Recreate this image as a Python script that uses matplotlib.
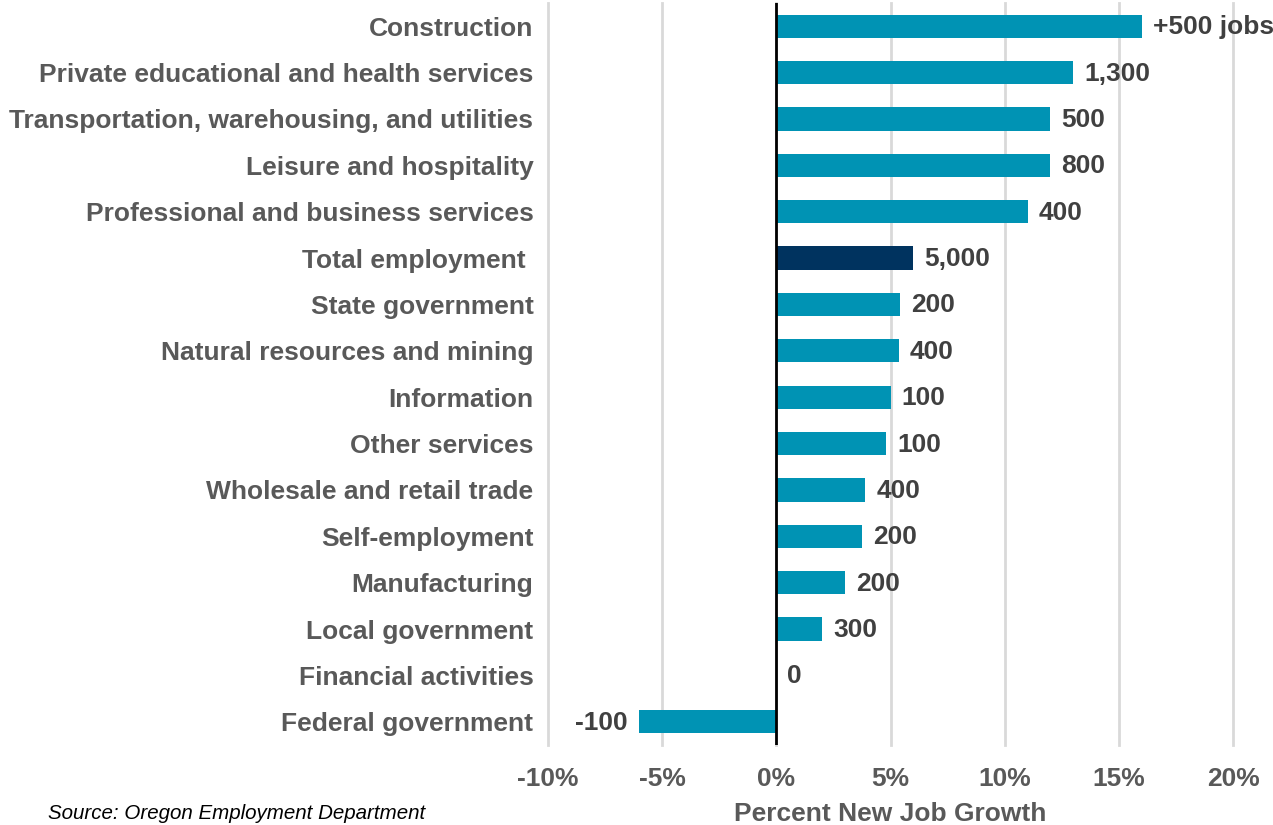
import matplotlib.pyplot as plt
from matplotlib.ticker import FuncFormatter

plt.rcParams['font.family'] = ['Liberation Sans', 'DejaVu Sans']

# Industries, top to bottom as they appear in the chart
industries = [
    'Construction',
    'Private educational and health services',
    'Transportation, warehousing, and utilities',
    'Leisure and hospitality',
    'Professional and business services',
    'Total employment ',
    'State government',
    'Natural resources and mining',
    'Information',
    'Other services',
    'Wholesale and retail trade',
    'Self-employment',
    'Manufacturing',
    'Local government',
    'Financial activities',
    'Federal government',
]
pct_growth = [16.0, 13.0, 12.0, 12.0, 11.0, 6.0, 5.4, 5.35, 5.0, 4.8,
              3.9, 3.75, 3.0, 2.0, 0.0, -6.0]
job_labels = ['+500 jobs', '1,300', '500', '800', '400', '5,000', '200', '400',
              '100', '100', '400', '200', '200', '300', '0', '-100']

bar_col = '#0093B4'
total_col = '#00335F'
label_gray = '#595959'
value_gray = '#404040'
fs = 19

fig = plt.figure(figsize=(12.73, 8.25), dpi=100)
ax = fig.add_axes([0.4305, 0.097, 0.5381, 0.8994])

ypos = list(range(len(industries)))[::-1]
colors = [total_col if s.startswith('Total') else bar_col for s in industries]
ax.barh(ypos, pct_growth, height=0.5, color=colors, zorder=3)

# value labels
for y, v, lab in zip(ypos, pct_growth, job_labels):
    if v < 0:
        ax.annotate(lab, (v, y), xytext=(-12, -1), textcoords='offset pixels',
                    ha='right', va='center', fontsize=fs, weight='bold', color=value_gray)
    else:
        ax.annotate(lab, (v, y), xytext=(11, -1), textcoords='offset pixels',
                    ha='left', va='center', fontsize=fs, weight='bold', color=value_gray)

ax.set_xlim(-10, 20)
ax.set_ylim(-0.5, len(industries) - 0.5)
ax.set_xticks([-10, -5, 0, 5, 10, 15, 20])
ax.xaxis.set_major_formatter(FuncFormatter(lambda x, p: f'{x:.0f}%'))
ax.set_yticks(ypos)
ax.set_yticklabels(industries)

ax.tick_params(axis='both', length=0, labelsize=fs, labelcolor=label_gray)
ax.tick_params(axis='x', pad=16)
ax.tick_params(axis='y', pad=10.5)
for t in ax.get_xticklabels() + ax.get_yticklabels():
    t.set_fontweight('bold')

ax.grid(axis='x', color='#d9d9d9', linewidth=2, zorder=0)
for gl in ax.get_xgridlines():
    gl.set_clip_on(False)
ax.axvline(0, color='black', linewidth=2, zorder=4)
for s in ax.spines.values():
    s.set_visible(False)

ax.set_xlabel('Percent New Job Growth', fontsize=fs, weight='bold', color=label_gray, labelpad=8)

fig.text(0.038, 0.002, 'Source: Oregon Employment Department', fontsize=14.8,
         style='italic', color='black', ha='left', va='bottom')

fig.savefig('out.png', dpi=100)
